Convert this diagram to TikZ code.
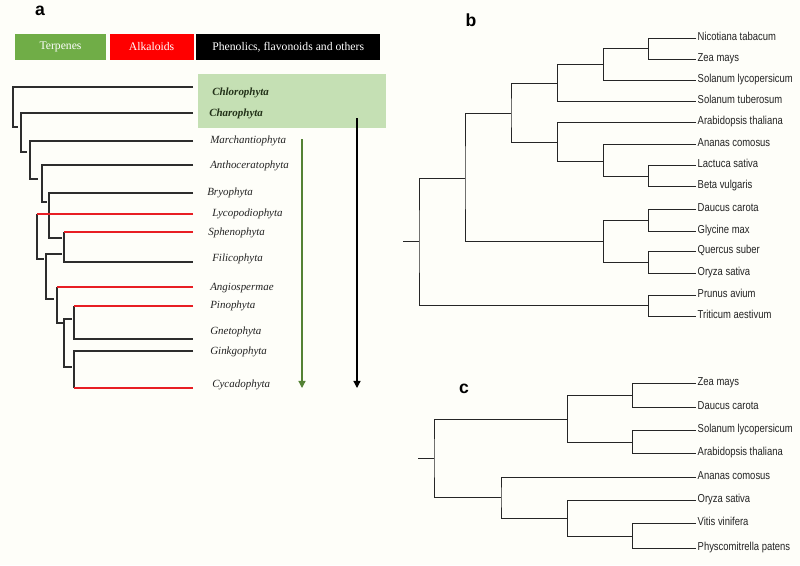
\documentclass[tikz,border=0pt]{standalone}
\usepackage{xcolor}
\usepackage{fontspec}
\setmainfont{Liberation Serif}
\newfontfamily\treesf[FakeStretch=0.82]{Liberation Sans}
\newfontfamily\panelsf{Liberation Sans}
\usepackage{tikz}
\usetikzlibrary{arrows.meta,positioning}
\definecolor{paper}{RGB}{254,254,249}
\definecolor{terpgreen}{RGB}{112,173,71}
\definecolor{cladegreen}{RGB}{197,224,180}
\definecolor{arrowgreen}{RGB}{84,130,53}
\definecolor{alkred}{RGB}{232,30,36}
\definecolor{boxred}{RGB}{255,0,0}
\definecolor{branchgray}{RGB}{45,45,45}
\definecolor{taxontext}{RGB}{35,35,35}
\definecolor{algtext}{RGB}{35,50,25}

\begin{document}
\begin{tikzpicture}[x=0.025cm, y=-0.025cm,
  panel/.style={inner sep=0pt, font=\panelsf\bfseries\fontsize{12.5}{14}\selectfont},
  legend/.style={minimum height=0.625cm, inner sep=0pt, text=white, font=\fontsize{8.3}{10}\selectfont},
  taxon/.style={anchor=west, inner sep=0pt, text height=3.6pt, text depth=0pt, text=taxontext, font=\itshape\fontsize{7.8}{9}\selectfont},
  algae/.style={taxon, text=algtext, font=\bfseries\itshape\fontsize{7.8}{9}\selectfont},
  abr/.style={draw=branchgray, line width=1.1pt},
  rbr/.style={draw=alkred, line width=1.1pt},
  sp/.style={anchor=west, inner sep=1pt, text height=3.4pt, text depth=0pt, text=taxontext, font=\treesf\fontsize{8.2}{10}\selectfont},
  tbr/.style={draw=black!85, line width=0.6pt}]
  \fill[paper] (0,0) rectangle (800,565);
  \useasboundingbox (0,0) rectangle (800,565);

  % panel a: legend and clade box
  \node[panel] (pa) at (40,11) {a};
  \node[legend, fill=terpgreen, minimum width=2.275cm] (terp) at (60.5,47) {Terpenes};
  \node[legend, fill=boxred, minimum width=2.1cm, right=0.075cm of terp] (alk) {Alkaloids};
  \node[legend, fill=black, minimum width=4.6cm, right=0.05cm of alk] (phen) {Phenolics, flavonoids and others};
  \node[fill=cladegreen, minimum width=4.7cm, minimum height=1.35cm, inner sep=0pt] (algaebox) at (292,101) {};

  \node[algae] (chl) at (212,93) {Chlorophyta};
  \node[algae] (cha) at (209,114) {Charophyta};
  \node[taxon] (mar) at (210,141) {Marchantiophyta};
  \node[taxon] (ant) at (210,166) {Anthoceratophyta};
  \node[taxon] (bry) at (207,193) {Bryophyta};
  \node[taxon] (lyc) at (212,214) {Lycopodiophyta};
  \node[taxon] (sph) at (208,233) {Sphenophyta};
  \node[taxon] (fil) at (212,259) {Filicophyta};
  \node[taxon] (ang) at (210,288) {Angiospermae};
  \node[taxon] (pin) at (210,306) {Pinophyta};
  \node[taxon] (gne) at (210,332) {Gnetophyta};
  \node[taxon] (gin) at (210,352) {Ginkgophyta};
  \node[taxon] (cyc) at (212,385) {Cycadophyta};

  % tips of the cladogram
  \coordinate (tchl) at (193,87);
  \coordinate (tcha) at (193,113);
  \coordinate (tmar) at (193,141);
  \coordinate (tant) at (193,165);
  \coordinate (tbry) at (193,193);
  \coordinate (tlyc) at (193,214);
  \coordinate (tsph) at (193,232);
  \coordinate (tfil) at (193,262);
  \coordinate (tang) at (193,287);
  \coordinate (tpin) at (193,306);
  \coordinate (tgne) at (193,339);
  \coordinate (tgin) at (193,351);
  \coordinate (tcyc) at (193,388);

  \draw[abr] (tchl) -| (13,127) -- ++(5,0);
  \draw[abr] (tcha) -| (21,152) -- ++(6,0);
  \draw[abr] (tmar) -| (30,179) -- ++(8,0);
  \draw[abr] (tant) -| (42,202) -- ++(5,0);
  \draw[abr] (tbry) -| (49,238) -- ++(13,0);
  \draw[abr] (37,214) -- (37,259) -- ++(7,0);
  \draw[rbr] (tlyc) -- (37,214);
  \draw[abr] (64,232) |- (tfil);
  \draw[rbr] (tsph) -- (64,232);
  \draw[abr] (62,254) -| (46,299) -- ++(8,0);
  \draw[abr] (57,287) -- (57,323) -- ++(6,0);
  \draw[rbr] (tang) -- (57,287);
  \draw[abr] (72,319) -| (64,367) -- ++(8,0);
  \draw[abr] (74,306) |- (tgne);
  \draw[rbr] (tpin) -- (74,306);
  \draw[abr] (tgin) -| (74,388);
  \draw[rbr] (74,388) -- (tcyc);

  % arrows
  \coordinate (gtop) at (302,139);
  \coordinate (gbot) at (302,388);
  \coordinate (ktop) at (357,118);
  \coordinate (kbot) at (357,388);
  \draw[arrowgreen, line width=0.9pt, -{Triangle[width=5pt,length=5pt]}] (gtop) -- (gbot);
  \draw[black, line width=0.9pt, -{Triangle[width=5pt,length=5pt]}] (ktop) -- (kbot);

  % panel b
  \node[panel] (pb) at (471,20) {b};
  \node[sp] (bnic) at (696,38) {Nicotiana tabacum};
  \node[sp] (bzea) at (696,59) {Zea mays};
  \node[sp] (bsly) at (696,80) {Solanum lycopersicum};
  \node[sp] (bstu) at (696,101) {Solanum tuberosum};
  \node[sp] (bara) at (696,122) {Arabidopsis thaliana};
  \node[sp] (bana) at (696,144) {Ananas comosus};
  \node[sp] (blac) at (696,165) {Lactuca sativa};
  \node[sp] (bbet) at (696,186) {Beta vulgaris};
  \node[sp] (bdau) at (696,209) {Daucus carota};
  \node[sp] (bgly) at (696,231) {Glycine max};
  \node[sp] (bque) at (696,251) {Quercus suber};
  \node[sp] (bory) at (696,273) {Oryza sativa};
  \node[sp] (bpru) at (696,295) {Prunus avium};
  \node[sp] (btri) at (696,316) {Triticum aestivum};

  \coordinate (b1) at (648,48);
  \coordinate (b2) at (603,64);
  \coordinate (b3) at (557,83);
  \coordinate (b4) at (648,176);
  \coordinate (b5) at (603,161);
  \coordinate (b6) at (557,142);
  \coordinate (b7) at (511,113);
  \coordinate (b8) at (648,220);
  \coordinate (b9) at (648,262);
  \coordinate (b10) at (603,241);
  \coordinate (b11) at (465,178);
  \coordinate (b12) at (648,305);
  \coordinate (b13) at (419,241);
  \coordinate (broot) at (403,241);

  \draw[tbr] (bnic.west) -| (b1) |- (bzea.west);
  \draw[tbr] (b1) -| (b2) |- (bsly.west);
  \draw[tbr] (b2) -| (b3) |- (bstu.west);
  \draw[tbr] (blac.west) -| (b4) |- (bbet.west);
  \draw[tbr] (bana.west) -| (b5) |- (b4);
  \draw[tbr] (bara.west) -| (b6) |- (b5);
  \draw[tbr] (b3) -| (b7) |- (b6);
  \draw[tbr] (bdau.west) -| (b8) |- (bgly.west);
  \draw[tbr] (bque.west) -| (b9) |- (bory.west);
  \draw[tbr] (b8) -| (b10) |- (b9);
  \draw[tbr] (b7) -| (b11) |- (b10);
  \draw[tbr] (bpru.west) -| (b12) |- (btri.west);
  \draw[tbr] (b11) -| (b13) |- (b12);
  \draw[tbr] (broot) -- (b13);

  % panel c
  \node[panel] (pc) at (464,389) {c};
  \node[sp] (czea) at (696,383) {Zea mays};
  \node[sp] (cdau) at (696,407) {Daucus carota};
  \node[sp] (csly) at (696,430) {Solanum lycopersicum};
  \node[sp] (cara) at (696,453) {Arabidopsis thaliana};
  \node[sp] (cana) at (696,477) {Ananas comosus};
  \node[sp] (cory) at (696,500) {Oryza sativa};
  \node[sp] (cvit) at (696,523) {Vitis vinifera};
  \node[sp] (cphy) at (696,548) {Physcomitrella patens};

  \coordinate (c1) at (632,395);
  \coordinate (c2) at (632,442);
  \coordinate (c3) at (567,419);
  \coordinate (c4) at (632,536);
  \coordinate (c5) at (567,518);
  \coordinate (c6) at (501,497);
  \coordinate (c7) at (434,458);
  \coordinate (croot) at (418,458);

  \draw[tbr] (czea.west) -| (c1) |- (cdau.west);
  \draw[tbr] (csly.west) -| (c2) |- (cara.west);
  \draw[tbr] (c1) -| (c3) |- (c2);
  \draw[tbr] (cvit.west) -| (c4) |- (cphy.west);
  \draw[tbr] (cory.west) -| (c5) |- (c4);
  \draw[tbr] (cana.west) -| (c6) |- (c5);
  \draw[tbr] (c3) -| (c7) |- (c6);
  \draw[tbr] (croot) -- (c7);
\end{tikzpicture}
\end{document}
